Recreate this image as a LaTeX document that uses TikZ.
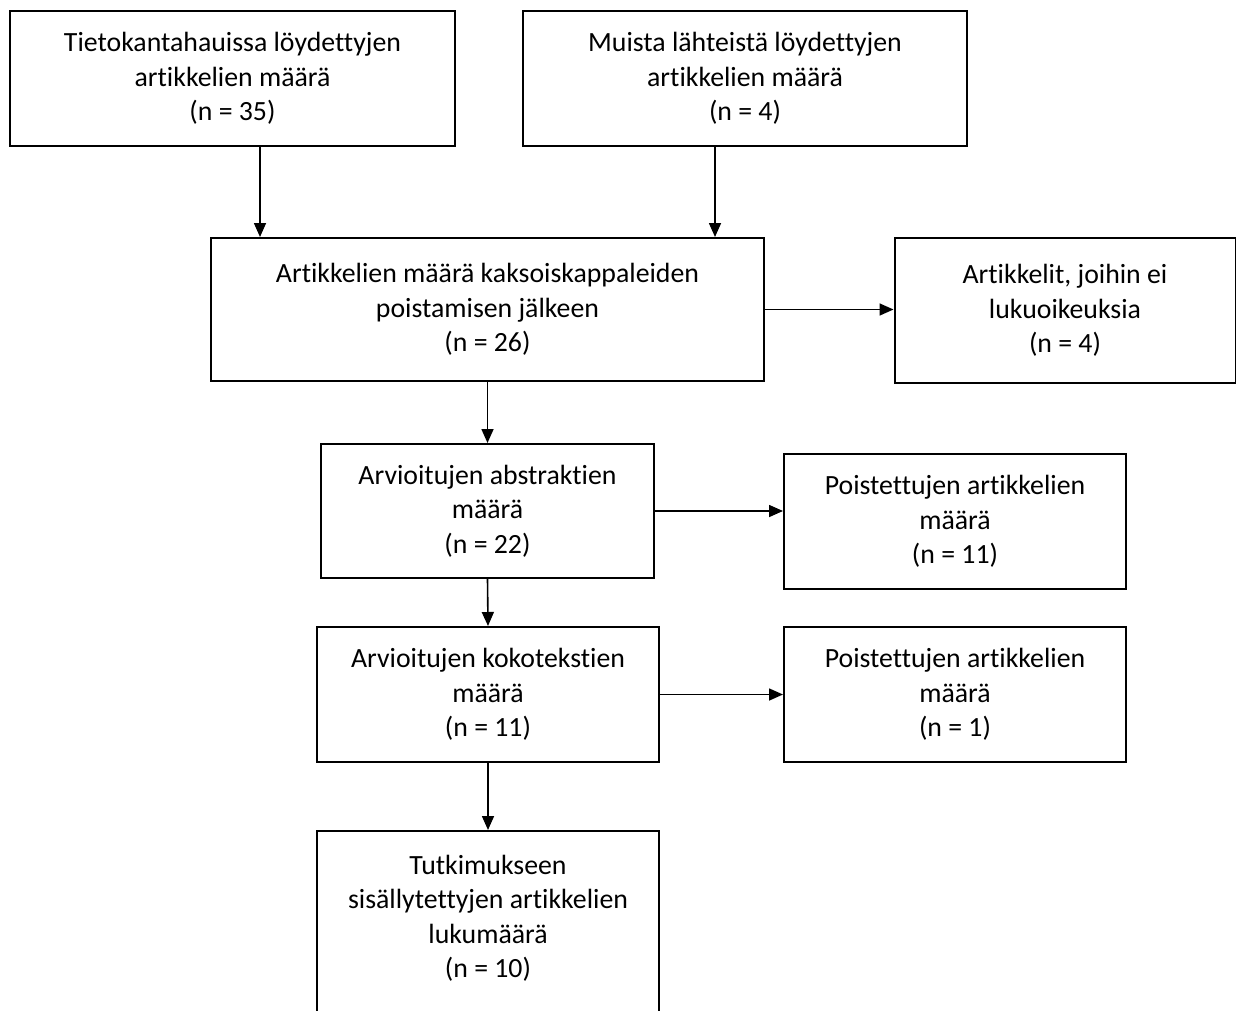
\documentclass[tikz,border=0pt]{standalone}
\usepackage{fontspec}
\setmainfont{Carlito}[Ligatures=NoCommon]
\usetikzlibrary{arrows.meta}
\begin{document}
\begin{tikzpicture}[
	x=0.5pt, y=-0.5pt,
	box/.style = {draw, line width=1pt, align=center, inner sep=0pt, font=\fontsize{13.9}{17.25}\selectfont},
	flow/.style = {draw, line width=0.8pt, -{Triangle[length=7pt,width=6pt]}},
	]
	\clip (0,0) rectangle (1236,1011);
	\node[box, minimum width=222.5pt, minimum height=67.5pt] (database) at (232.5,78.5) {Tietokantahauissa löydettyjen\\artikkelien määrä\\(n = 35)};
	\node[box, minimum width=222pt, minimum height=67.5pt] (other) at (745,78.5) {Muista lähteistä löydettyjen\\artikkelien määrä\\(n = 4)};
	\node[box, minimum width=276.5pt, minimum height=71.5pt] (dedup) at (487.5,309.5) {Artikkelien määrä kaksoiskappaleiden\\poistamisen jälkeen\\(n = 26)};
	\node[box, minimum width=170.5pt, minimum height=72.5pt] (noaccess) at (1065,310.5) {Artikkelit, joihin ei\\lukuoikeuksia\\(n = 4)};
	\node[box, minimum width=166.5pt, minimum height=67pt] (abstracts) at (487.5,511) {Arvioitujen abstraktien\\määrä\\(n = 22)};
	\node[box, minimum width=171pt, minimum height=67.5pt] (removedA) at (955,521.5) {Poistettujen artikkelien\\määrä\\(n = 11)};
	\node[box, minimum width=171pt, minimum height=67.5pt] (fulltexts) at (488,694.5) {Arvioitujen kokotekstien\\määrä\\(n = 11)};
	\node[box, minimum width=171pt, minimum height=67.5pt] (removedB) at (955,694.5) {Poistettujen artikkelien\\määrä\\(n = 1)};
	% last box runs off the page
	\node[box, minimum width=171pt, anchor=north, inner ysep=12pt, text depth=80pt] (included) at (488,830) {Tutkimukseen\\sisällytettyjen artikkelien\\lukumäärä\\(n = 10)};

	\draw[flow] ([xshift=13.75pt]database.south) -- ([xshift=13.75pt]database.south |- dedup.north);
	\draw[flow] ([xshift=-15pt]other.south) -- ([xshift=-15pt]other.south |- dedup.north);
	\draw[flow] (dedup.east) -- (dedup.east -| noaccess.west);
	\draw[flow] (dedup.south) -- (abstracts.north);
	\draw[flow] (abstracts.east) -- (abstracts.east -| removedA.west);
	\draw[flow] (abstracts.south) -- (fulltexts.north);
	\draw[flow] (fulltexts.east) -- (fulltexts.east -| removedB.west);
	\draw[flow] (fulltexts.south) -- (included.north);
\end{tikzpicture}
\end{document}
